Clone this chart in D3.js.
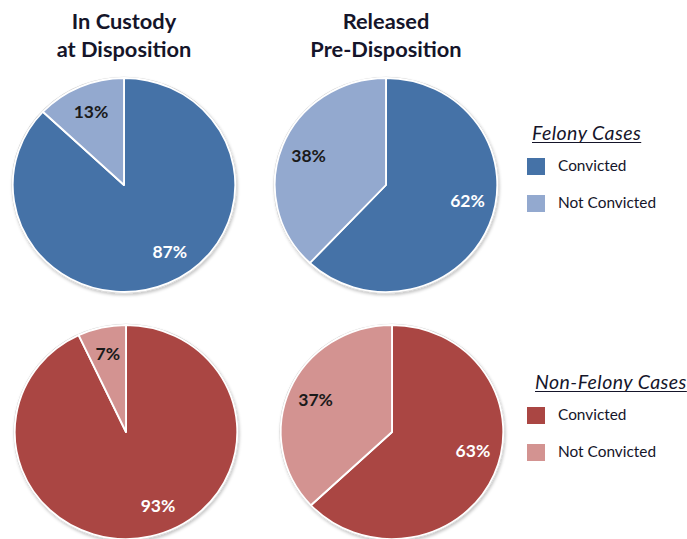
<!DOCTYPE html>
<html>
<head>
<meta charset="utf-8">
<script src="https://cdn.jsdelivr.net/npm/d3@7"></script>
<style>
  html, body { margin: 0; padding: 0; background: #fff; }
  svg { display: block; }
</style>
</head>
<body>
<svg id="chart" width="687" height="539"></svg>
<script>
// Column headings (two lines each)
const columnTitles = [["In Custody", "at Disposition"], ["Released", "Pre-Disposition"]];
// Row legends
const caseTypes = ["Felony Cases", "Non-Felony Cases"];
const outcomes = ["Convicted", "Not Convicted"];
// Percent shares per column: [In Custody, Released]
const felonyConvicted = [87, 62];
const felonyNotConvicted = [13, 38];
const nonFelonyConvicted = [93, 63];
const nonFelonyNotConvicted = [7, 37];

const rows = [
  { type: caseTypes[0], convicted: felonyConvicted, notConvicted: felonyNotConvicted,
    colors: ["#4572A7", "#93A9CF"] },
  { type: caseTypes[1], convicted: nonFelonyConvicted, notConvicted: nonFelonyNotConvicted,
    colors: ["#AA4643", "#D39391"] }
];

const svg = d3.select("#chart");
const font = "Lato, 'Open Sans', sans-serif";

// drop shadow for the pies
const defs = svg.append("defs");
const f = defs.append("filter").attr("id", "shadow")
  .attr("x", "-10%").attr("y", "-10%").attr("width", "125%").attr("height", "125%");
f.append("feDropShadow").attr("dx", 1).attr("dy", 2).attr("stdDeviation", 1.6)
  .attr("flood-color", "#000").attr("flood-opacity", 0.22);

// layout
const colX = [[124, 386], [126, 392]];
const rowY = [185, 432];
const ry = 107, stretch = 1.04;
const labelR = 80;

// column headings
columnTitles.forEach((lines, i) => {
  const t = svg.append("text")
    .attr("x", colX[0][i]).attr("y", 29)
    .attr("text-anchor", "middle")
    .style("font-family", font).style("font-weight", 700)
    .style("font-size", "21.8px").style("fill", "#15152a");
  lines.forEach((ln, k) => {
    t.append("tspan").attr("x", colX[0][i]).attr("dy", k === 0 ? 0 : 28).text(ln);
  });
});

const pie = d3.pie().sort(null).value(d => d.value);
const arc = d3.arc().innerRadius(0).outerRadius(ry);

// label anchor: slice mid-angle, pulled back a little for slices over half the pie
function labelPos(d) {
  let a = (d.startAngle + d.endAngle) / 2;
  if (d.endAngle - d.startAngle > Math.PI) a -= 10 * Math.PI / 180;
  return [labelR * Math.sin(a), -labelR * Math.cos(a)];
}

rows.forEach((row, r) => {
  const color = d3.scaleOrdinal().domain(outcomes).range(row.colors);

  [0, 1].forEach(c => {
    const data = [
      { key: outcomes[0], value: row.convicted[c] },
      { key: outcomes[1], value: row.notConvicted[c] }
    ];
    const arcs = pie(data);
    const g = svg.append("g")
      .attr("transform", `translate(${colX[r][c]},${rowY[r]}) scale(${stretch},1)`);

    // outer rim + shadow
    g.append("circle").attr("r", ry + 0.5)
      .attr("fill", "#fff").attr("stroke", "#cfcfcf").attr("stroke-width", 1.6)
      .attr("filter", "url(#shadow)");

    g.selectAll("path.slice").data(arcs).join("path")
      .attr("class", "slice")
      .attr("d", arc)
      .attr("fill", d => color(d.data.key))
      .attr("stroke", "#fff").attr("stroke-width", 1.8)
      .attr("stroke-linejoin", "round");

    g.selectAll("text.lbl").data(arcs).join("text")
      .attr("class", "lbl")
      .attr("transform", d => {
        const [x, y] = labelPos(d);
        return `translate(${x},${y}) scale(${1 / stretch},1)`;
      })
      .attr("text-anchor", "middle").attr("dy", "0.35em")
      .style("font-family", font).style("font-weight", 700).style("font-size", "17.5px")
      .style("fill", d => d.data.key === outcomes[0] ? "#ffffff" : "#1a1a1a")
      .text(d => d.data.value + "%");
  });

  // legend
  const ly = r === 0 ? 140 : 389;
  const lx = r === 0 ? 532 : 535;
  const lg = svg.append("g");
  const title = lg.append("text")
    .attr("x", lx).attr("y", ly)
    .style("font-family", font).style("font-style", "italic")
    .style("font-size", "19.5px").style("letter-spacing", "0.45px").style("fill", "#15152a")
    .text(row.type);
  const bb = title.node().getBBox();
  lg.append("line")
    .attr("x1", bb.x).attr("x2", bb.x + bb.width)
    .attr("y1", ly + 2.5).attr("y2", ly + 2.5)
    .attr("stroke", "#15152a").attr("stroke-width", 1.2);

  outcomes.forEach((o, k) => {
    const y0 = ly + 18 + k * 37;
    lg.append("rect")
      .attr("x", 527).attr("y", y0)
      .attr("width", 18).attr("height", 17)
      .attr("fill", color(o));
    lg.append("text")
      .attr("x", 558).attr("y", y0 + 13)
      .style("font-family", font).style("font-size", "15.4px").style("fill", "#15152a")
      .text(o);
  });
});
</script>
</body>
</html>
